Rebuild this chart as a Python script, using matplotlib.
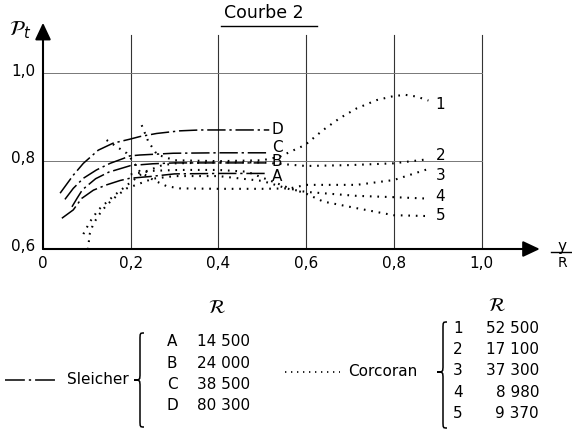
import matplotlib
matplotlib.use("Agg")
import matplotlib.pyplot as plt
from matplotlib.path import Path
from matplotlib.patches import PathPatch
from matplotlib.lines import Line2D

# Sleicher curves (dash-dot)
sleicher_names = ["A", "B", "C", "D"]
sleicher_re = ["14 500", "24 000", "38 500", "80 300"]
sleicher_x = {
  "A": [0.043, 0.069, 0.088, 0.115, 0.145, 0.176, 0.198, 0.244, 0.30, 0.40, 0.506],
  "B": [0.066, 0.078, 0.09, 0.12, 0.15, 0.20, 0.25, 0.30, 0.40, 0.506],
  "C": [0.050, 0.069, 0.092, 0.122, 0.153, 0.183, 0.198, 0.221, 0.297, 0.40, 0.513],
  "D": [0.039, 0.069, 0.092, 0.126, 0.160, 0.198, 0.221, 0.259, 0.312, 0.358, 0.45, 0.516],
}
sleicher_y = {
  "A": [0.670, 0.689, 0.715, 0.734, 0.746, 0.756, 0.761, 0.765, 0.771, 0.772, 0.772],
  "B": [0.696, 0.716, 0.735, 0.760, 0.775, 0.790, 0.794, 0.796, 0.796, 0.796],
  "C": [0.713, 0.738, 0.761, 0.780, 0.795, 0.806, 0.812, 0.814, 0.818, 0.819, 0.819],
  "D": [0.727, 0.768, 0.795, 0.825, 0.841, 0.850, 0.856, 0.863, 0.869, 0.871, 0.871, 0.871],
}

# Corcoran curves (dotted)
corcoran_names = ["1", "2", "3", "4", "5"]
corcoran_re = ["52 500", "17 100", "37 300", "8 980", "9 370"]
corcoran_x = {
  "1": [0.225, 0.24, 0.26, 0.30, 0.40, 0.50, 0.54, 0.563, 0.598, 0.639, 0.677, 0.715, 0.761, 0.799, 0.826, 0.852, 0.879],
  "2": [0.092, 0.107, 0.126, 0.16, 0.20, 0.23, 0.27, 0.30, 0.40, 0.50, 0.60, 0.70, 0.799, 0.875],
  "3": [0.145, 0.168, 0.191, 0.205, 0.221, 0.252, 0.282, 0.312, 0.40, 0.50, 0.563, 0.60, 0.715, 0.80, 0.875],
  "4": [0.100, 0.103, 0.107, 0.115, 0.130, 0.145, 0.168, 0.191, 0.25, 0.30, 0.40, 0.50, 0.563, 0.60, 0.715, 0.80, 0.871],
  "5": [0.20, 0.25, 0.31, 0.40, 0.465, 0.525, 0.563, 0.598, 0.639, 0.715, 0.799, 0.875],
}
corcoran_y = {
  "1": [0.882, 0.845, 0.815, 0.802, 0.800, 0.802, 0.810, 0.821, 0.837, 0.871, 0.898, 0.920, 0.939, 0.948, 0.951, 0.947, 0.938],
  "2": [0.634, 0.662, 0.689, 0.720, 0.752, 0.775, 0.790, 0.795, 0.797, 0.797, 0.789, 0.791, 0.795, 0.804],
  "3": [0.848, 0.833, 0.818, 0.800, 0.776, 0.757, 0.743, 0.738, 0.737, 0.737, 0.738, 0.746, 0.746, 0.757, 0.781],
  "4": [0.582, 0.605, 0.636, 0.658, 0.681, 0.700, 0.721, 0.738, 0.760, 0.766, 0.766, 0.755, 0.736, 0.730, 0.721, 0.718, 0.715],
  "5": [0.770, 0.778, 0.780, 0.780, 0.776, 0.753, 0.738, 0.727, 0.708, 0.693, 0.677, 0.675],
}

x_ticks = [0, 0.2, 0.4, 0.6, 0.8, 1.0]
x_tick_labels = ["0", "0,2", "0,4", "0,6", "0,8", "1,0"]
y_ticks = [0.6, 0.8, 1.0]
y_tick_labels = ["0,6", "0,8", "1,0"]

W, H = 572, 446
plt.rcParams['font.family'] = ['DejaVu Sans']
fig = plt.figure(figsize=(W / 100, H / 100), dpi=100)

def fx(px):
  return px / W

def fy(py):
  return 1 - py / H

# axes: x=0 at px 43, 438.5 px per unit; y=0.6 at px 249, 439.25 px per unit
xmax, ymax = 1.14, 1.12
ax = fig.add_axes([fx(43), fy(249), 1.14 * 438.5 / W, 0.52 * 439.25 / H])
ax.set_xlim(0, xmax)
ax.set_ylim(0.6, ymax)
ax.axis('off')

dashdot = (0, (12, 2.5, 1.5, 2.5))
dotted = (0, (0.8, 2.8))

# grid
for xv in x_ticks[1:]:
  ax.plot([xv, xv], [0.6, 1.087], color='#333333', lw=0.8)
for yv in y_ticks[1:]:
  ax.plot([0, 1.0], [yv, yv], color='#777777', lw=0.7)

# axes with arrows
ax.annotate('', xy=(1.133, 0.6), xytext=(0, 0.6), annotation_clip=False,
            arrowprops=dict(arrowstyle='-|>,head_length=0.85,head_width=0.4',
                            color='k', lw=1.5, mutation_scale=12, shrinkA=0, shrinkB=0))
ax.annotate('', xy=(0, 1.115), xytext=(0, 0.6), annotation_clip=False,
            arrowprops=dict(arrowstyle='-|>,head_length=0.85,head_width=0.4',
                            color='k', lw=1.5, mutation_scale=12, shrinkA=0, shrinkB=0))

for xv, lab in zip(x_ticks, x_tick_labels):
  ax.text(xv, 0.566, lab, ha='center', va='center', fontsize=11)
for yv, lab in zip(y_ticks, y_tick_labels):
  ax.text(-0.018, yv + 0.005, lab, ha='right', va='center', fontsize=11)

# curves
for name in sleicher_names:
  ax.plot(sleicher_x[name], sleicher_y[name], color='k', lw=1.1, linestyle=dashdot)
for name in corcoran_names:
  ax.plot(corcoran_x[name], corcoran_y[name], color='k', lw=1.5, linestyle=dotted)

sleicher_label_pos = {"A": 0.765, "B": 0.799, "C": 0.832, "D": 0.871}
for name in sleicher_names:
  ax.text(0.522, sleicher_label_pos[name], name, ha='left', va='center', fontsize=11)
corcoran_label_pos = {"1": 0.930, "2": 0.812, "3": 0.768, "4": 0.719, "5": 0.677}
for name in corcoran_names:
  ax.text(0.895, corcoran_label_pos[name], name, ha='left', va='center', fontsize=11)

# axis titles
fig.text(fx(20), fy(30), r'$\mathcal{P}_t$', ha='center', va='center', fontsize=15)
fig.text(fx(562), fy(246), 'y', ha='center', va='center', fontsize=11)
fig.add_artist(Line2D([fx(551), fx(571)], [fy(252), fy(252)], color='k', lw=1.0))
fig.text(fx(562), fy(263), 'R', ha='center', va='center', fontsize=10)

# title
fig.text(fx(264), fy(13), 'Courbe 2', ha='center', va='center', fontsize=12.5)
fig.add_artist(Line2D([fx(221), fx(317)], [fy(26), fy(26)], color='k', lw=1.0))

def brace(x0, ytop, ybot, ytip, w=4, wt=6, h=7):
  verts = [(x0 + w, ytop), (x0, ytop), (x0, ytop), (x0, ytop + h),
           (x0, ytip - h),
           (x0, ytip), (x0, ytip), (x0 - wt, ytip),
           (x0, ytip), (x0, ytip), (x0, ytip + h),
           (x0, ybot - h),
           (x0, ybot), (x0, ybot), (x0 + w, ybot)]
  codes = [Path.MOVETO, Path.CURVE4, Path.CURVE4, Path.CURVE4,
           Path.LINETO,
           Path.CURVE4, Path.CURVE4, Path.CURVE4,
           Path.CURVE4, Path.CURVE4, Path.CURVE4,
           Path.LINETO,
           Path.CURVE4, Path.CURVE4, Path.CURVE4]
  verts = [(fx(a), fy(b)) for a, b in verts]
  fig.add_artist(PathPatch(Path(verts, codes), fill=False, lw=1.1,
                           edgecolor='k', transform=fig.transFigure))

# Sleicher legend
fig.add_artist(Line2D([fx(5), fx(55)], [fy(380), fy(380)], color='k', lw=1.1,
                      linestyle=(0, (13, 2.6, 1.5, 2.6))))
fig.text(fx(67), fy(380), 'Sleicher', ha='left', va='center', fontsize=11)
brace(140, 333, 427, 380)
fig.text(fx(217), fy(307), r'$\mathcal{R}$', ha='center', va='center', fontsize=14)
for i, (name, re) in enumerate(zip(sleicher_names, sleicher_re)):
  yy = 341.7 + i * 21.3
  fig.text(fx(172), fy(yy), name, ha='center', va='center', fontsize=11)
  fig.text(fx(250), fy(yy), re, ha='right', va='center', fontsize=11)

# Corcoran legend
fig.add_artist(Line2D([fx(285), fx(340)], [fy(372), fy(372)], color='k', lw=1.2,
                      linestyle=(0, (0.8, 2.8))))
fig.text(fx(348), fy(372), 'Corcoran', ha='left', va='center', fontsize=11)
brace(443, 322, 428, 372)
fig.text(fx(497), fy(305), r'$\mathcal{R}$', ha='center', va='center', fontsize=14)
for i, (name, re) in enumerate(zip(corcoran_names, corcoran_re)):
  yy = 328.3 + i * 21.25
  fig.text(fx(458), fy(yy), name, ha='center', va='center', fontsize=11)
  fig.text(fx(539), fy(yy), re, ha='right', va='center', fontsize=11)

fig.savefig("out.png", dpi=100)
plt.close()
